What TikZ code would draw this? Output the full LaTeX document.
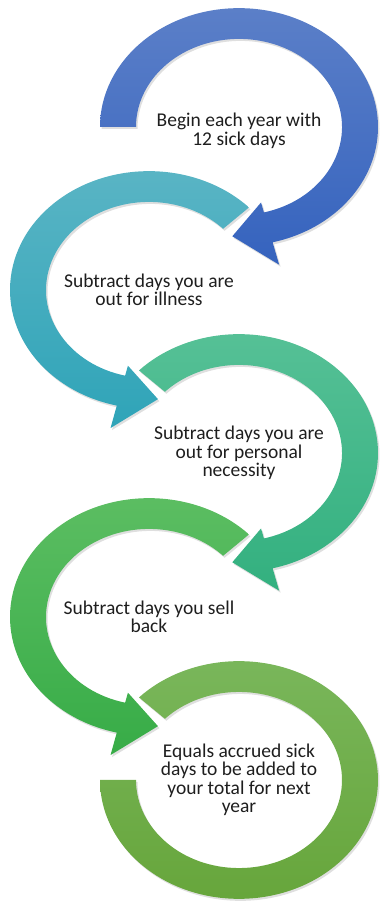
\documentclass[tikz,border=0pt]{standalone}
\usepackage{fontspec}
\setmainfont{Carlito}
\usetikzlibrary{shadows}
\definecolor{blueA}{HTML}{5B7FC8}
\definecolor{blueB}{HTML}{3563BE}
\definecolor{tealA}{HTML}{5BB5C5}
\definecolor{tealB}{HTML}{2FA4B8}
\definecolor{mintA}{HTML}{57C197}
\definecolor{mintB}{HTML}{33B07F}
\definecolor{greenA}{HTML}{5DBE63}
\definecolor{greenB}{HTML}{37AC47}
\definecolor{oliveA}{HTML}{7AB75C}
\definecolor{oliveB}{HTML}{66A53A}
\definecolor{ink}{HTML}{1E1E1E}

\begin{document}
\begin{tikzpicture}[x=1pt,y=1pt,
  ringarrow/.style={drop shadow={shadow xshift=1.5pt,shadow yshift=-2pt,opacity=.25}},
  steptext/.style={align=center,text=ink,font=\fontsize{19.5}{18.5}\selectfont}]
\useasboundingbox (0,0) rectangle (380,902);
% bending arrows: outer r 139, inner r 103, squashed to .855
\foreach \n/\cx/\cy/\sa/\ea/\tp/\ca/\cb in {1/239/775/180/-76/-93/blueA/blueB,2/149/612/44/256.6/274/tealA/tealB,3/239/449/136/-76/-93/mintA/mintB,4/149/285/44/256.6/274/greenA/greenB}{
  \coordinate (c\n) at (\cx,\cy);
  \begin{scope}[shift={(\cx,\cy)},yscale=.855]
  \shade[ringarrow,top color=\ca,bottom color=\cb] (\sa:139) arc[start angle=\sa,end angle=\ea,radius=139] -- (\ea:166) -- (\tp:128) -- (\ea:91) -- (\ea:103) arc[start angle=\ea,end angle=\sa,radius=103] -- cycle;
  \end{scope}
}
% last one has no head
\coordinate (c5) at (239,122);
\begin{scope}[shift={(239,122)},yscale=.855]
\shade[ringarrow,top color=oliveA,bottom color=oliveB] (136:139) arc[start angle=136,end angle=-180,radius=139] -- (180:103) arc[start angle=-180,end angle=136,radius=103] -- cycle;
\end{scope}

\node[steptext] (t1) at ([yshift=-4]c1) {Begin each year with\\12 sick days};
\node[steptext] (t2) at (c2) {Subtract days you are\\out for illness};
\node[steptext] (t3) at (c3) {Subtract days you are\\out for personal\\necessity};
\node[steptext] (t4) at (c4) {Subtract days you sell\\back};
\node[steptext] (t5) at (c5) {Equals accrued sick\\days to be added to\\your total for next\\year};
\end{tikzpicture}
\end{document}
